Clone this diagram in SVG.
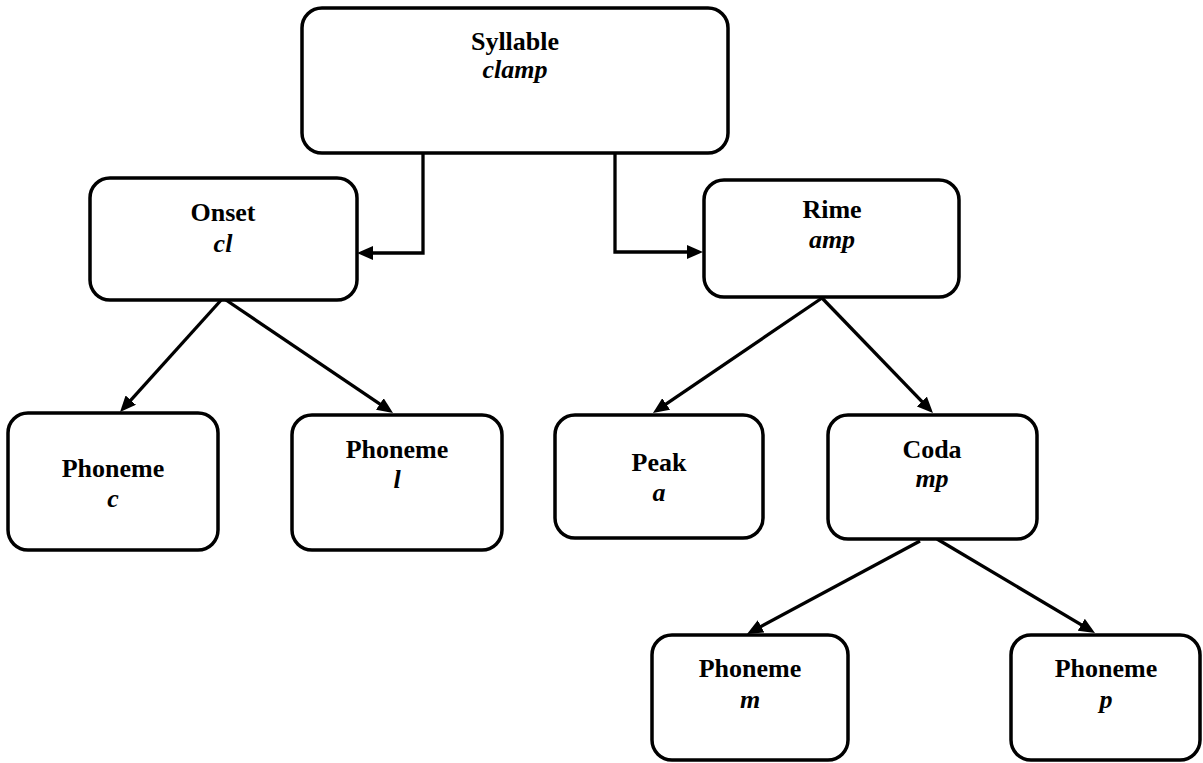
<svg xmlns="http://www.w3.org/2000/svg" width="1203" height="763" viewBox="0 0 1203 763">
<style>
.box{fill:#fff;stroke:#000;stroke-width:3.5}
.t{font-family:'Liberation Serif','DejaVu Serif','Times New Roman',Times,serif;font-size:26px;font-weight:bold;text-anchor:middle;fill:#000}
.i{font-style:italic}
.c{fill:none;stroke:#000;stroke-width:3.3;marker-end:url(#ah)}
</style>
<defs>
<marker id="ah" markerUnits="userSpaceOnUse" markerWidth="16" markerHeight="14" refX="11" refY="7" orient="auto">
<path d="M0,0 L16,7 L0,14 z" fill="#000"/>
</marker>
</defs>
<rect width="1203" height="763" fill="#fff"/>
<g id="connectors">
<path class="c" d="M423,153 V253 H362"/>
<path class="c" d="M615,153 V252 H698"/>
<path class="c" d="M223,298 L123.4,408.3"/>
<path class="c" d="M223,298 L388.9,410.2"/>
<path class="c" d="M822,298 L657.1,410.2"/>
<path class="c" d="M822,298 L929.5,409.4"/>
<path class="c" d="M920,541 L751.4,631.6"/>
<path class="c" d="M937,539 L1090.7,630.4"/>
</g>
<g id="syllable"><rect class="box" x="302" y="8" width="426" height="145" rx="20"/>
<text class="t" x="515" y="50">Syllable</text><text class="t i" x="515" y="78">clamp</text></g>
<g id="onset"><rect class="box" x="90" y="178" width="267" height="122" rx="20"/>
<text class="t" x="223" y="221">Onset</text><text class="t i" x="223" y="252">cl</text></g>
<g id="rime"><rect class="box" x="704" y="180" width="255" height="117" rx="20"/>
<text class="t" x="832" y="218">Rime</text><text class="t i" x="832" y="248">amp</text></g>
<g id="phoneme-c"><rect class="box" x="8" y="413" width="210" height="137" rx="20"/>
<text class="t" x="113" y="477">Phoneme</text><text class="t i" x="113" y="507">c</text></g>
<g id="phoneme-l"><rect class="box" x="292" y="415" width="210" height="135" rx="20"/>
<text class="t" x="397" y="458">Phoneme</text><text class="t i" x="397" y="488">l</text></g>
<g id="peak"><rect class="box" x="555" y="415" width="208" height="123" rx="20"/>
<text class="t" x="659" y="471">Peak</text><text class="t i" x="659" y="501">a</text></g>
<g id="coda"><rect class="box" x="828" y="415" width="209" height="124" rx="20"/>
<text class="t" x="932" y="458">Coda</text><text class="t i" x="932" y="487">mp</text></g>
<g id="phoneme-m"><rect class="box" x="652" y="635" width="196" height="125" rx="20"/>
<text class="t" x="750" y="677">Phoneme</text><text class="t i" x="750" y="708">m</text></g>
<g id="phoneme-p"><rect class="box" x="1011" y="635" width="189" height="125" rx="20"/>
<text class="t" x="1106" y="677">Phoneme</text><text class="t i" x="1106" y="708">p</text></g>
</svg>
